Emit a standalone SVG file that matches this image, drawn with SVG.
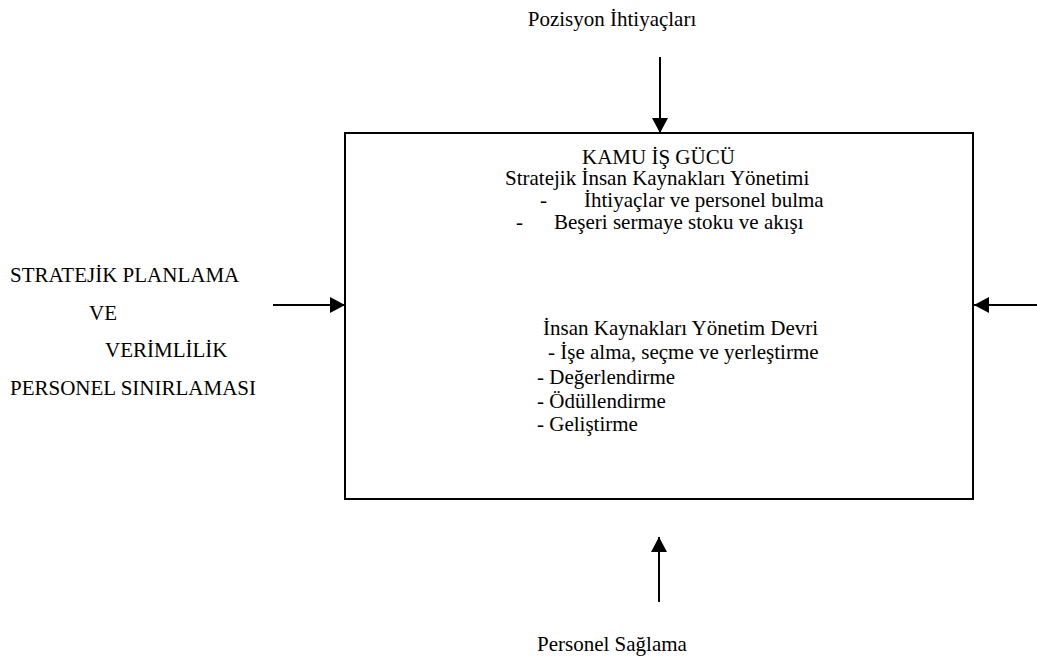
<svg xmlns="http://www.w3.org/2000/svg" width="1037" height="659" viewBox="0 0 1037 659">
  <style>
    text { font-family: "Liberation Serif", "Times New Roman", Times, Tinos, "Noto Serif", "DejaVu Serif", serif; font-size: 21px; fill: #000; }
    .conn { stroke: #000; stroke-width: 2; fill: none; }
    .frame { stroke: #000; stroke-width: 2; fill: #fff; }
  </style>
  <defs>
    <marker id="arrow" viewBox="0 0 15 16" refX="15" refY="8" markerWidth="15" markerHeight="16" markerUnits="userSpaceOnUse" orient="auto">
      <path d="M0,0 L15,8 L0,16 Z" fill="#000"/>
    </marker>
  </defs>
  <rect width="1037" height="659" fill="#fff"/>

  <!-- central process box -->
  <g id="node-kamu-is-gucu">
    <rect class="frame" x="345" y="133" width="628" height="366"/>
    <text x="582" y="164">KAMU İŞ GÜCÜ</text>
    <text x="505" y="185">Stratejik İnsan Kaynakları Yönetimi</text>
    <text x="540" y="207">-</text>
    <text x="584" y="207">İhtiyaçlar ve personel bulma</text>
    <text x="516" y="229">-</text>
    <text x="554" y="229">Beşeri sermaye stoku ve akışı</text>
    <text x="543" y="335">İnsan Kaynakları Yönetim Devri</text>
    <text x="548" y="359">- İşe alma, seçme ve yerleştirme</text>
    <text x="537" y="384">- Değerlendirme</text>
    <text x="537" y="408">- Ödüllendirme</text>
    <text x="537" y="431">- Geliştirme</text>
  </g>

  <!-- input labels -->
  <g id="node-pozisyon">
    <text x="612" y="26" text-anchor="middle">Pozisyon İhtiyaçları</text>
  </g>
  <g id="node-stratejik">
    <text x="10" y="282">STRATEJİK PLANLAMA</text>
    <text x="89" y="320">VE</text>
    <text x="105" y="357">VERİMLİLİK</text>
    <text x="10" y="395">PERSONEL SINIRLAMASI</text>
  </g>
  <g id="node-personel-saglama">
    <text x="612" y="651" text-anchor="middle">Personel Sağlama</text>
  </g>

  <!-- connectors -->
  <g id="connectors">
    <line class="conn" x1="660" y1="57" x2="660" y2="133" marker-end="url(#arrow)"/>
    <line class="conn" x1="273" y1="305" x2="345" y2="305" marker-end="url(#arrow)"/>
    <line class="conn" x1="1037" y1="305" x2="974" y2="305" marker-end="url(#arrow)"/>
    <line class="conn" x1="659" y1="602" x2="659" y2="537" marker-end="url(#arrow)"/>
  </g>
</svg>
